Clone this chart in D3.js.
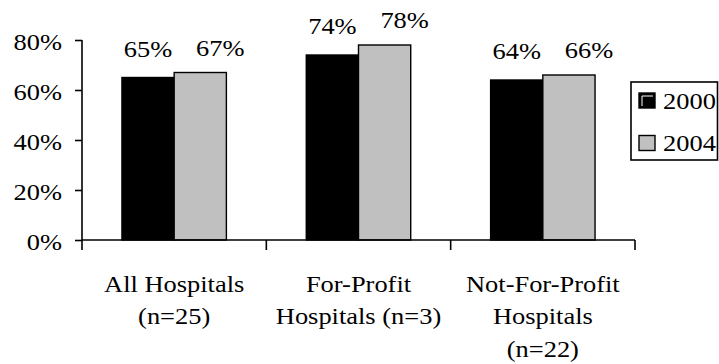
<!DOCTYPE html>
<html>
<head>
<meta charset="utf-8">
<script src="https://cdn.jsdelivr.net/npm/d3@7/dist/d3.min.js"></script>
<style>
  html, body { margin: 0; padding: 0; background: #fff; }
  svg { display: block; }
</style>
</head>
<body>
<svg id="chart" width="719" height="364"></svg>
<script>
// Hospital categories, each label split into lines
const categories = ["All Hospitals", "For-Profit", "Not-For-Profit"];
const categoryLines = [
  ["All Hospitals", "(n=25)"],
  ["For-Profit", "Hospitals (n=3)"],
  ["Not-For-Profit", "Hospitals", "(n=22)"]
];
const seriesNames = ["2000", "2004"];
const values2000 = [65, 74, 64];
const values2004 = [67, 78, 66];
const yTicks = [0, 20, 40, 60, 80];

const seriesColors = { "2000": "#000000", "2004": "#c0c0c0" };
// label placement per series (offset above the bar top, horizontal shift)
const labelStyle = { "2000": { gap: 21, dx: 0 }, "2004": { gap: 17, dx: 20 } };

const FONT = 23;
const SX = 1.15; // horizontal glyph stretch
const FAMILY = "'Liberation Serif', 'Times New Roman', Times, serif";

const svg = d3.select("#chart");

const x0 = d3.scaleBand().domain(categories).range([82, 635]).paddingInner(0).paddingOuter(0);
const x1 = d3.scaleBand().domain(seriesNames).range([0, x0.bandwidth()]).paddingInner(0).paddingOuter(0.765);
const y = d3.scaleLinear().domain([0, 80]).range([240, 40]);

const rows = categories.map((c, i) => ({
  cat: c,
  vals: [
    { s: "2000", v: values2000[i] },
    { s: "2004", v: values2004[i] }
  ]
}));

// bars
const groups = svg.append("g").selectAll("g").data(rows).join("g")
  .attr("transform", d => `translate(${x0(d.cat)},0)`);

groups.selectAll("rect").data(d => d.vals).join("rect")
  .attr("x", d => x1(d.s))
  .attr("y", d => y(d.v))
  .attr("width", x1.bandwidth())
  .attr("height", d => y(0) - y(d.v))
  .attr("fill", d => seriesColors[d.s])
  .attr("stroke", "#000")
  .attr("stroke-width", 1.4);

// value labels
groups.selectAll("text.val").data(d => d.vals).join("text")
  .attr("class", "val")
  .attr("text-anchor", "middle")
  .style("font-family", FAMILY)
  .style("font-size", FONT + "px")
  .attr("transform", d => `translate(${x1(d.s) + x1.bandwidth() / 2 + labelStyle[d.s].dx},${y(d.v) - labelStyle[d.s].gap}) scale(${SX},1)`)
  .text(d => d.v + "%");

// y axis
const yAxis = svg.append("g")
  .attr("transform", "translate(82,0)")
  .call(d3.axisLeft(y).tickValues(yTicks).tickSize(7).tickFormat(d => d + "%"));
yAxis.select(".domain").attr("stroke-width", 1.6).attr("d", "M0,40V250");
yAxis.selectAll(".tick line").attr("stroke-width", 1.6);
yAxis.selectAll(".tick text")
  .attr("x", null).attr("dy", null)
  .style("font-family", FAMILY)
  .style("font-size", FONT + "px")
  .attr("fill", "#000")
  .attr("transform", `translate(-20,9.2) scale(${SX},1)`);

// x axis with boundary ticks between categories
const boundaries = categories.map(c => x0(c)).concat([x0.range()[1]]);
const xAxis = svg.append("g");
xAxis.append("line")
  .attr("x1", x0.range()[0]).attr("x2", x0.range()[1])
  .attr("y1", y(0)).attr("y2", y(0))
  .attr("stroke", "#000").attr("stroke-width", 1.6);
xAxis.selectAll("line.tick").data(boundaries.slice(1)).join("line")
  .attr("class", "tick")
  .attr("x1", d => d).attr("x2", d => d)
  .attr("y1", y(0)).attr("y2", y(0) + 10)
  .attr("stroke", "#000").attr("stroke-width", 1.6);

// category labels
const catLabels = svg.append("g").selectAll("g").data(categories).join("g")
  .attr("transform", c => `translate(${x0(c) + x0.bandwidth() / 2},0)`);
catLabels.each(function (c, i) {
  d3.select(this).selectAll("text").data(categoryLines[i]).join("text")
    .attr("text-anchor", "middle")
    .style("font-family", FAMILY)
    .style("font-size", FONT + "px")
    .attr("transform", (t, j) => `translate(0,${291.5 + j * 32.5}) scale(${SX},1)`)
    .text(t => t);
});

// legend
const legend = svg.append("g");
legend.append("rect")
  .attr("x", 631).attr("y", 82).attr("width", 86.5).attr("height", 78)
  .attr("fill", "#fff").attr("stroke", "#000").attr("stroke-width", 1.6);
const items = legend.selectAll("g").data(seriesNames).join("g")
  .attr("transform", (s, i) => `translate(639,${93 + i * 42.5})`);
items.append("rect")
  .attr("width", 16).attr("height", 15)
  .attr("fill", s => seriesColors[s])
  .attr("stroke", "#000").attr("stroke-width", 1.4);
items.filter(s => s === "2000").append("path")
  .attr("d", "M3,13V3H14")
  .attr("fill", "none").attr("stroke", "#fff").attr("stroke-width", 1);
items.append("text")
  .style("font-family", FAMILY)
  .style("font-size", FONT + "px")
  .attr("transform", `translate(24,15.5) scale(${SX},1)`)
  .text(s => s);
</script>
</body>
</html>
